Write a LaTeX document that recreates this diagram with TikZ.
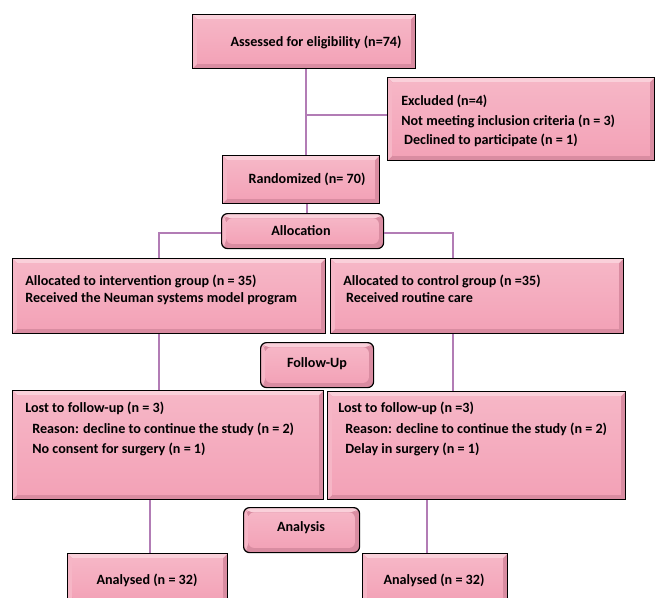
\documentclass[tikz,border=0pt]{standalone}
\usepackage{fontspec}
\setmainfont{Carlito}
\usetikzlibrary{calc}
\definecolor{pinkmain}{HTML}{F3A2B7}
\definecolor{pinklight}{HTML}{FAD0DA}
\definecolor{pinkmid}{HTML}{F6B6C6}
\definecolor{pinkdark}{HTML}{D98CA1}
\definecolor{linepurple}{HTML}{B27CB5}
\tikzset{
  bev/.style={draw=black, line width=0.9pt, fill=pinkmain, inner sep=0pt,
    anchor=north west,
    path picture={
      \path (path picture bounding box.north west) coordinate (pnw)
            (path picture bounding box.south east) coordinate (pse);
      \fill[pinkdark] (pnw) rectangle (pse);
      \fill[pinklight] (pnw) -- (pnw -| pse) -- ([shift={(-3.5pt,-3.5pt)}]pnw -| pse) -- ([shift={(3.5pt,-3.5pt)}]pnw) -- cycle;
      \fill[pinkmid] (pnw) -- ([shift={(3.5pt,-3.5pt)}]pnw) -- ([shift={(3.5pt,3.5pt)}]pnw |- pse) -- (pnw |- pse) -- cycle;
      \shade[top color=pinkmid, bottom color=pinkmain]
        ([shift={(3.5pt,-3.5pt)}]pnw) rectangle ([shift={(-3.5pt,3.5pt)}]pse);
    }},
  rbev/.style={bev, rounded corners=4.5pt},
  txt/.style={inner sep=0pt, font=\bfseries\fontsize{10.6}{12}\selectfont, text=black},
  mtxt/.style={txt, anchor=north west, align=left},
  conn/.style={draw=linepurple, line width=1pt},
}
\newcommand{\bx}[6]{\node[#1, minimum width={(#5-#3)*0.75pt}, minimum height={(#6-#4)*0.75pt}] (#2) at (#3,#4) {};}
\begin{document}
\begin{tikzpicture}[x=0.75pt,y=-0.75pt]
\useasboundingbox (0,0) rectangle (660,597);
\fill[white] (0,0) rectangle (660,597);
% boxes
\bx{bev}{assess}{192}{14}{415}{68}
\bx{bev}{excl}{387}{77}{654}{160}
\bx{bev}{rand}{222}{155}{379}{203}
\bx{rbev}{alloc}{221}{213}{383}{248}
\bx{bev}{interv}{12}{258}{325}{333}
\bx{bev}{control}{330}{258}{623}{333}
\bx{rbev}{follow}{260}{342}{373}{387}
\bx{bev}{lostL}{12}{390}{323}{499}
\bx{bev}{lostR}{327}{391}{625}{499}
\bx{rbev}{analysis}{243}{507}{359}{552}
\bx{bev}{anaL}{67}{553}{227}{604}
\bx{bev}{anaR}{362}{553}{507}{604}
% texts
\node[txt] (tassess) at (316,42) {Assessed for eligibility (n=74)};
\node[mtxt, font=\bfseries\fontsize{10.6}{14.6}\selectfont] (texcl) at (401,95)
  {Excluded (n=4)\\Not meeting inclusion criteria (n = 3)\\\hspace*{0.2em}Declined to participate (n = 1)};
\node[txt] (trand) at (307,179) {Randomized (n= 70)};
\node[txt] (talloc) at (301,231) {Allocation};
\node[mtxt, font=\bfseries\fontsize{10.6}{12.8}\selectfont] (tinterv) at (25,275)
  {Allocated to intervention group (n = 35)\\Received the Neuman systems model program};
\node[mtxt, font=\bfseries\fontsize{10.6}{12.8}\selectfont] (tcontrol) at (343,275)
  {Allocated to control group (n =35)\\\hspace*{0.2em}Received routine care};
\node[txt] (tfollow) at (317,364) {Follow-Up};
\node[mtxt, font=\bfseries\fontsize{10.6}{15.4}\selectfont] (tlostL) at (25,402)
  {Lost to follow-up (n = 3)\\\hspace*{0.5em}Reason: decline to continue the study (n = 2)\\\hspace*{0.5em}No consent for surgery (n = 1)};
\node[mtxt, font=\bfseries\fontsize{10.6}{15.4}\selectfont] (tlostR) at (338,402)
  {Lost to follow-up (n =3)\\\hspace*{0.5em}Reason: decline to continue the study (n = 2)\\\hspace*{0.5em}Delay in surgery (n = 1)};
\node[txt] (tanalysis) at (301,528) {Analysis};
\node[txt] (tanaL) at (147,580) {Analysed (n = 32)};
\node[txt] (tanaR) at (434,580) {Analysed (n = 32)};
% connector guides
\coordinate (cA) at (306,115);
\coordinate (cR) at (307,0);
\coordinate (cL) at (159,233);
\coordinate (cC) at (453,233);
\coordinate (cLL) at (150,0);
\coordinate (cRR) at (427,0);
% connectors
\draw[conn] (assess.south -| cA) -- (rand.north -| cA);
\draw[conn] (cA) -- (excl.west |- cA);
\draw[conn] (rand.south -| cR) -- (alloc.north -| cR);
\draw[conn] (alloc.west |- cL) -- (cL) -- (interv.north -| cL);
\draw[conn] (alloc.east |- cC) -- (cC) -- (control.north -| cC);
\draw[conn] (interv.south -| cL) -- (lostL.north -| cL);
\draw[conn] (control.south -| cC) -- (lostR.north -| cC);
\draw[conn] (lostL.south -| cLL) -- (anaL.north -| cLL);
\draw[conn] (lostR.south -| cRR) -- (anaR.north -| cRR);
\end{tikzpicture}
\end{document}
